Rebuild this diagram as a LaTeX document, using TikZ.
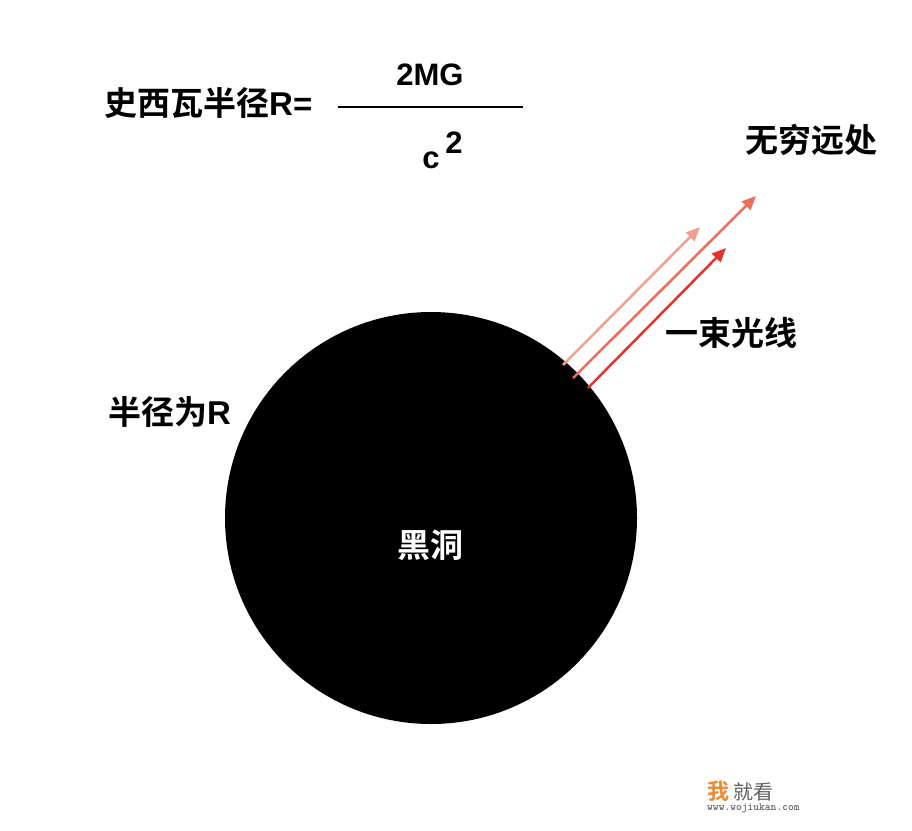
\documentclass[tikz,border=0pt]{standalone}
\usepackage{fontspec}
\setmainfont{Liberation Sans}
\newfontfamily\cjk{Noto Sans CJK SC}[BoldFont={Noto Sans CJK SC Bold}]
\newfontfamily\lat{Liberation Sans}
\usetikzlibrary{arrows.meta}
\definecolor{rayA}{HTML}{F0A090}
\definecolor{rayB}{HTML}{EA6F5E}
\definecolor{rayC}{HTML}{E2342C}
\definecolor{wmorange}{HTML}{F08A30}
\definecolor{wmgray}{HTML}{606060}
\begin{document}
\begin{tikzpicture}[x=1pt,y=-1pt,
  lbl/.style={inner sep=0pt,font=\cjk\bfseries\fontsize{33}{36}\selectfont},
  frac/.style={inner sep=0pt,font=\lat\bfseries\fontsize{31}{34}\selectfont},
  ray/.style={line width=2.5pt,-{Triangle[length=14pt,width=12pt]}}]
\useasboundingbox[fill=white] (0,0) rectangle (912,830);
\node[circle,fill=black,minimum size=412pt,inner sep=0pt] (bh) at (431,518) {};
\node[lbl,text=white] (bhl) at (430,545) {黑洞};
\node[lbl,anchor=west] (sch) at (104,103) {史西瓦半径\lat R=};
\node[frac] (num) at (430,75) {2MG};
\coordinate (fl) at (338,107);
\coordinate (fr) at (523,107);
\draw[line width=2pt] (fl) -- (fr);
\node[frac] (den) at (431,160) {c};
\node[frac] (sup) at (454,143) {2};
\node[lbl,anchor=west] (inf) at (745,140) {无穷远处};
\node[lbl,anchor=west] (beam) at (665,333) {一束光线};
\node[lbl,anchor=west] (rad) at (108,412) {半径为\lat R};
\coordinate (a1) at (563,365); \coordinate (b1) at (700,227);
\coordinate (a2) at (573,378); \coordinate (b2) at (756,196);
\coordinate (a3) at (588,388); \coordinate (b3) at (726,248);
\draw[ray,rayA] (a1) -- (b1);
\draw[ray,rayB] (a2) -- (b2);
\draw[ray,rayC] (a3) -- (b3);
\node[inner sep=0pt,anchor=west,font=\cjk\bfseries\fontsize{22}{24}\selectfont,text=wmorange] (wm1) at (707,791) {我};
\node[inner sep=0pt,anchor=west,font=\cjk\fontsize{20}{22}\selectfont,text=wmgray] (wm2) at (733,792) {就看};
\node[inner sep=0pt,anchor=west,font=\ttfamily\bfseries\fontsize{11}{12}\selectfont,text=wmgray] (wm3) at (707,808) {www.wojiukan.com};
\end{tikzpicture}
\end{document}
